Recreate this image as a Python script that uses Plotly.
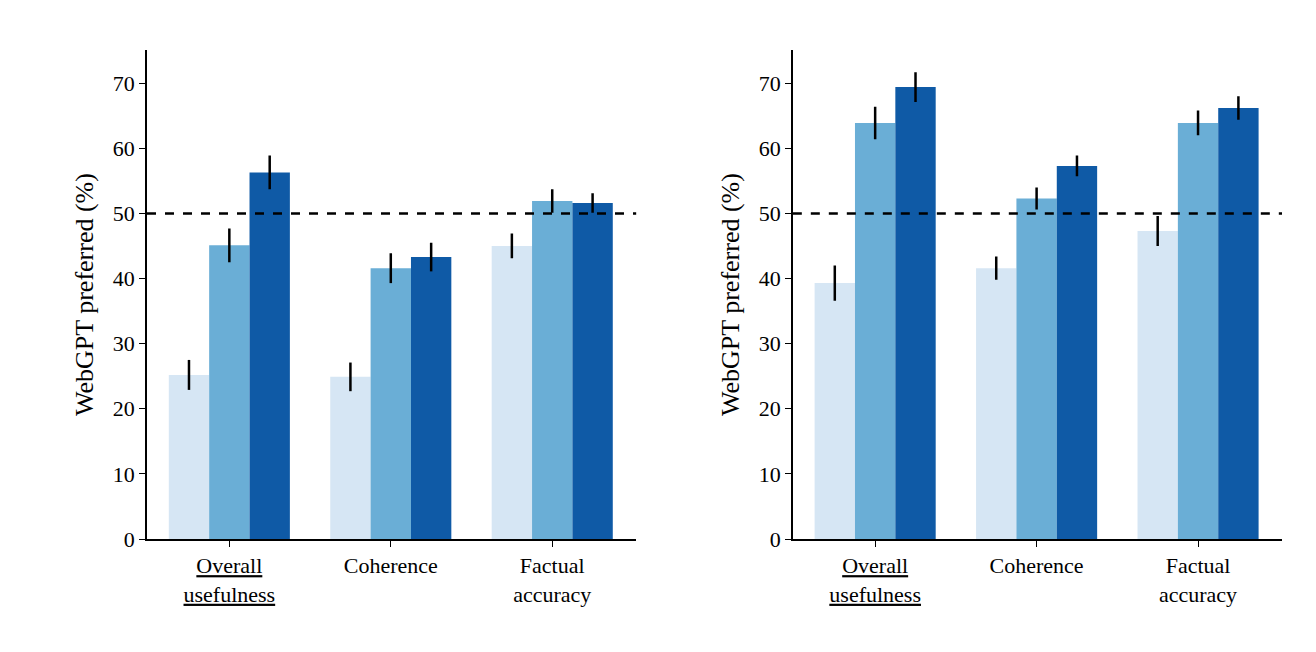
import plotly.graph_objects as go
from plotly.subplots import make_subplots

cats = ["Overall usefulness", "Coherence", "Factual accuracy"]
tick_text = ['<span style="text-decoration:underline">Overall</span><br><span style="text-decoration:underline">usefulness</span>',
             "Coherence", "Factual<br>accuracy"]
colors = ["#d6e6f4", "#6aaed6", "#0f5aa6"]

left_vals = [[25.2, 24.9, 45.0], [45.1, 41.6, 51.9], [56.3, 43.3, 51.6]]
left_err = [[2.3, 2.2, 1.9], [2.6, 2.3, 1.8], [2.6, 2.2, 1.5]]
right_vals = [[39.3, 41.6, 47.3], [63.9, 52.3, 63.9], [69.4, 57.3, 66.2]]
right_err = [[2.7, 1.8, 2.3], [2.5, 1.7, 1.9], [2.3, 1.6, 1.8]]

fig = make_subplots(rows=1, cols=2, horizontal_spacing=0.12)
for col, (vals, errs) in enumerate([(left_vals, left_err), (right_vals, right_err)], start=1):
    for i in range(3):
        fig.add_trace(go.Bar(x=[0, 1, 2], y=vals[i], marker_color=colors[i], marker_line_width=0,
                             error_y=dict(type="data", array=errs[i], color="black", thickness=2.5, width=0),
                             showlegend=False), row=1, col=col)
    fig.add_hline(y=50, line_dash="dash", line_color="black", line_width=2.5, row=1, col=col)

font = dict(family="Liberation Serif", size=22, color="black")
fig.update_layout(width=1316, height=652, barmode="group", bargap=0.25, bargroupgap=0,
                  plot_bgcolor="white", paper_bgcolor="white", font=font,
                  margin=dict(l=139, r=42, t=42, b=121))
fig.update_xaxes(range=[-0.51, 2.52], tickvals=[0, 1, 2], ticktext=tick_text, showline=True,
                 linecolor="black", linewidth=1.5, ticks="outside", ticklen=6, tickcolor="black",
                 showgrid=False, zeroline=False)
fig.update_yaxes(range=[0, 75.1], dtick=10, showline=True, linecolor="black", linewidth=1.5,
                 ticks="outside", ticklen=6, tickcolor="black", showgrid=False, zeroline=False,
                 title_text="WebGPT preferred (%)", title_font=dict(size=26), title_standoff=12)
fig.update_layout(xaxis=dict(domain=[0, 0.431]), xaxis2=dict(domain=[0.569, 1.0]))
fig.write_html("out.html")
